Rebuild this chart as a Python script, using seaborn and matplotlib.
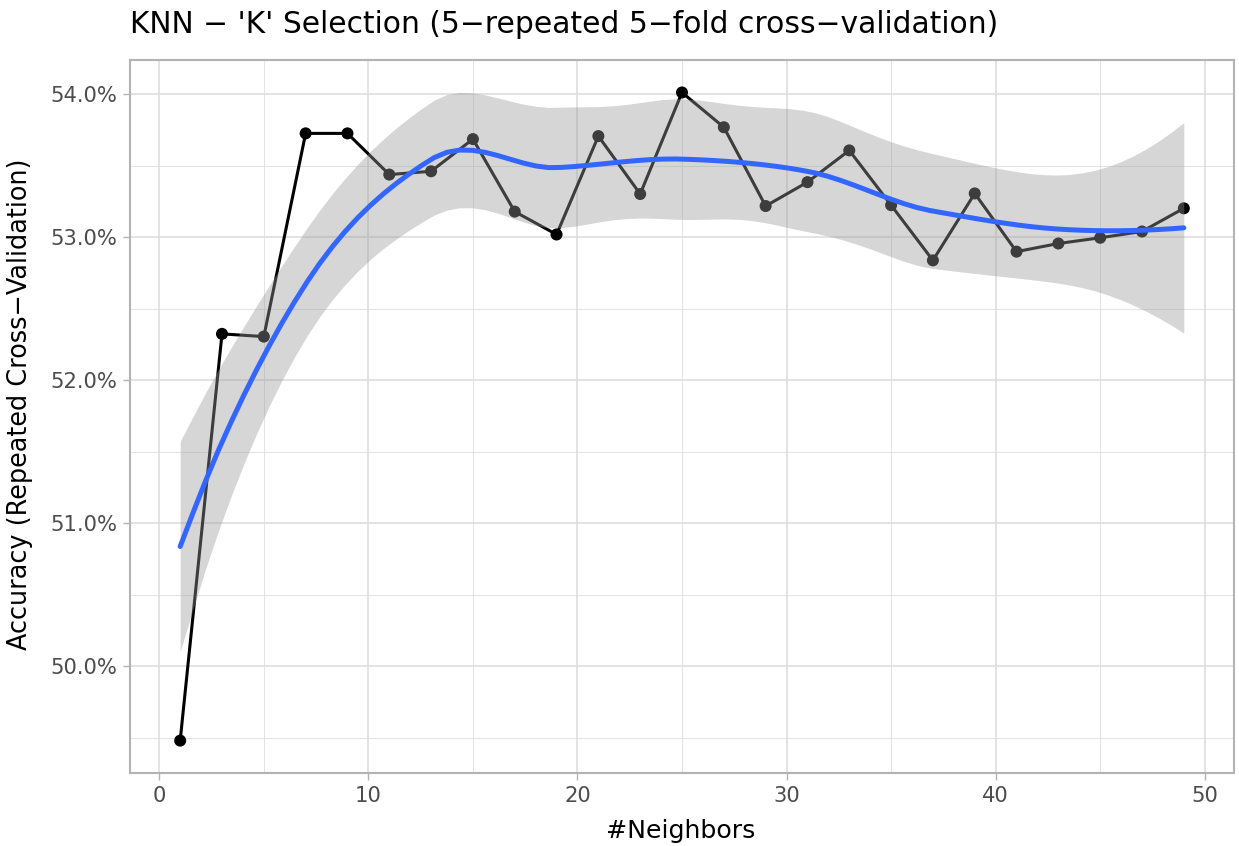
import math
import numpy as np
import pandas as pd
import matplotlib
matplotlib.use("Agg")
import matplotlib.pyplot as plt
from matplotlib.ticker import MultipleLocator, FuncFormatter
import seaborn as sns

# ---- data ----
neighbors = [1, 3, 5, 7, 9, 11, 13, 15, 17, 19, 21, 23, 25,
             27, 29, 31, 33, 35, 37, 39, 41, 43, 45, 47, 49]
accuracy = [49.48, 52.324, 52.305, 53.726, 53.726, 53.438, 53.461, 53.686,
            53.179, 53.019, 53.707, 53.302, 54.012, 53.769, 53.218, 53.385,
            53.607, 53.224, 52.838, 53.306, 52.899, 52.956, 52.996, 53.040,
            53.202]
x_ticks = [0, 10, 20, 30, 40, 50]
y_ticks = [50.0, 51.0, 52.0, 53.0, 54.0]

title = "KNN \u2212 'K' Selection (5\u2212repeated 5\u2212fold cross\u2212validation)"
xlab = "#Neighbors"
ylab = "Accuracy (Repeated Cross\u2212Validation)"

df = pd.DataFrame({"k": neighbors, "acc": accuracy})


# ---- loess (span 0.75, degree 2, kd-tree vertices + cubic Hermite interpolation) ----
def local_rows(x, x0, q):
    n = len(x)
    d = np.abs(x - x0)
    h = np.sort(d)[q - 1]
    u = np.clip(d / h, 0, 1)
    w = (1 - u ** 3) ** 3
    X = np.column_stack([np.ones(n), x - x0, (x - x0) ** 2])
    XtW = X.T * w
    B = np.linalg.solve(XtW @ X, XtW)
    return B[0], B[1]          # operator rows for value and slope


def kd_vertices(x, fc):
    rng = x.max() - x.min()
    mu = 0.005 * rng
    verts = {x.min() - mu, x.max() + mu}
    xs = np.sort(x)

    def split(l, u, lo, hi):
        if u - l + 1 <= fc:
            return
        m = (l + u) // 2
        v = xs[m]
        if v == lo or v == hi:
            return
        verts.add(v)
        split(l, m, lo, v)
        split(m + 1, u, v, hi)

    split(0, len(xs) - 1, x.min() - mu, x.max() + mu)
    return np.array(sorted(verts))


def loess_operator(x, xnew, span=0.75):
    n = len(x)
    q = int(np.floor(n * span))
    fc = int(np.floor(n * span * 0.2))
    verts = kd_vertices(x, fc)
    V = [local_rows(x, v, q) for v in verts]
    rows = []
    for x0 in xnew:
        i = np.searchsorted(verts, x0, side="right") - 1
        i = min(max(i, 0), len(verts) - 2)
        v0, v1 = verts[i], verts[i + 1]
        h = v1 - v0
        t = (x0 - v0) / h
        h00 = 2 * t ** 3 - 3 * t ** 2 + 1
        h10 = t ** 3 - 2 * t ** 2 + t
        h01 = -2 * t ** 3 + 3 * t ** 2
        h11 = t ** 3 - t ** 2
        rows.append(h00 * V[i][0] + h * h10 * V[i][1]
                    + h01 * V[i + 1][0] + h * h11 * V[i + 1][1])
    return np.array(rows)


def t_quantile(p, dfree):
    c = math.exp(math.lgamma((dfree + 1) / 2) - math.lgamma(dfree / 2)) / math.sqrt(dfree * math.pi)

    def cdf(t):
        g = np.linspace(0, t, 2001)
        v = c * (1 + g * g / dfree) ** (-(dfree + 1) / 2)
        return 0.5 + np.trapezoid(v, g)

    lo, hi = 0.0, 10.0
    for _ in range(50):
        mid = (lo + hi) / 2
        if cdf(mid) < p:
            lo = mid
        else:
            hi = mid
    return (lo + hi) / 2


xv = df["k"].to_numpy(float)
yv = df["acc"].to_numpy(float)
L = loess_operator(xv, xv)
res = yv - L @ yv
IL = np.eye(len(xv)) - L
M = IL.T @ IL
one_delta = np.trace(M)
two_delta = np.trace(M @ M)
sigma = math.sqrt(np.sum(res ** 2) / one_delta)
dfree = one_delta ** 2 / two_delta
tq = t_quantile(0.975, dfree)

xgrid = np.linspace(xv.min(), xv.max(), 80)
Lg = loess_operator(xv, xgrid)
fit = Lg @ yv
se = sigma * np.sqrt(np.sum(Lg ** 2, axis=1))
smooth = pd.DataFrame({"k": xgrid, "fit": fit,
                       "lo": fit - tq * se, "hi": fit + tq * se})

# ---- figure ----
sns.set_theme(style="white")
plt.rcParams["font.family"] = ["DejaVu Sans"]

fig = plt.figure(figsize=(12.39, 8.46), dpi=100)
ax = fig.add_axes([130 / 1239, 1 - 773 / 846, (1234 - 130) / 1239, (773 - 60) / 846])

sns.lineplot(data=df, x="k", y="acc", color="black", linewidth=2.2, ax=ax, zorder=3)
sns.scatterplot(data=df, x="k", y="acc", color="black", s=75, edgecolor="none",
                ax=ax, zorder=4)
ax.fill_between(smooth["k"], smooth["lo"], smooth["hi"], color="#999999",
                alpha=0.4, linewidth=0, zorder=5)
sns.lineplot(data=smooth, x="k", y="fit", color="#3366FF", linewidth=3.6,
             ax=ax, zorder=6)

ax.set_xlim(-1.4, 51.4)
ymin = min(min(accuracy), smooth["lo"].min())
ymax = max(max(accuracy), smooth["hi"].max())
yr = ymax - ymin
ax.set_ylim(ymin - 0.05 * yr, ymax + 0.05 * yr)

ax.set_xticks(x_ticks)
ax.set_yticks(y_ticks)
ax.xaxis.set_minor_locator(MultipleLocator(5))
ax.yaxis.set_minor_locator(MultipleLocator(0.5))
ax.yaxis.set_major_formatter(FuncFormatter(lambda v, p: f"{v:.1f}%"))

ax.grid(which="major", color="#DEDEDE", linewidth=1.2, zorder=0)
ax.grid(which="minor", color="#DEDEDE", linewidth=0.6, zorder=0)
ax.set_axisbelow(True)

for s in ax.spines.values():
    s.set_color("#B3B3B3")
    s.set_linewidth(1.5)

ax.tick_params(axis="both", which="major", length=5, width=1.0, color="#B3B3B3",
               labelsize=15.2, labelcolor="#4D4D4D", pad=4,
               bottom=True, left=True)
ax.tick_params(which="minor", length=0)

ax.set_xlabel("")
ax.set_ylabel("")
fig.text(681 / 1239, 1 - 838 / 846, xlab, fontsize=18.2, ha="center", va="baseline",
         color="black")
fig.text(20 / 1239, 1 - 404 / 846, ylab, fontsize=18.4, ha="center", va="center",
         rotation=90, color="black")
fig.text(130 / 1239, 1 - 33 / 846, title, fontsize=21.4, ha="left", va="baseline",
         color="black")

fig.savefig("out.png", dpi=100)
